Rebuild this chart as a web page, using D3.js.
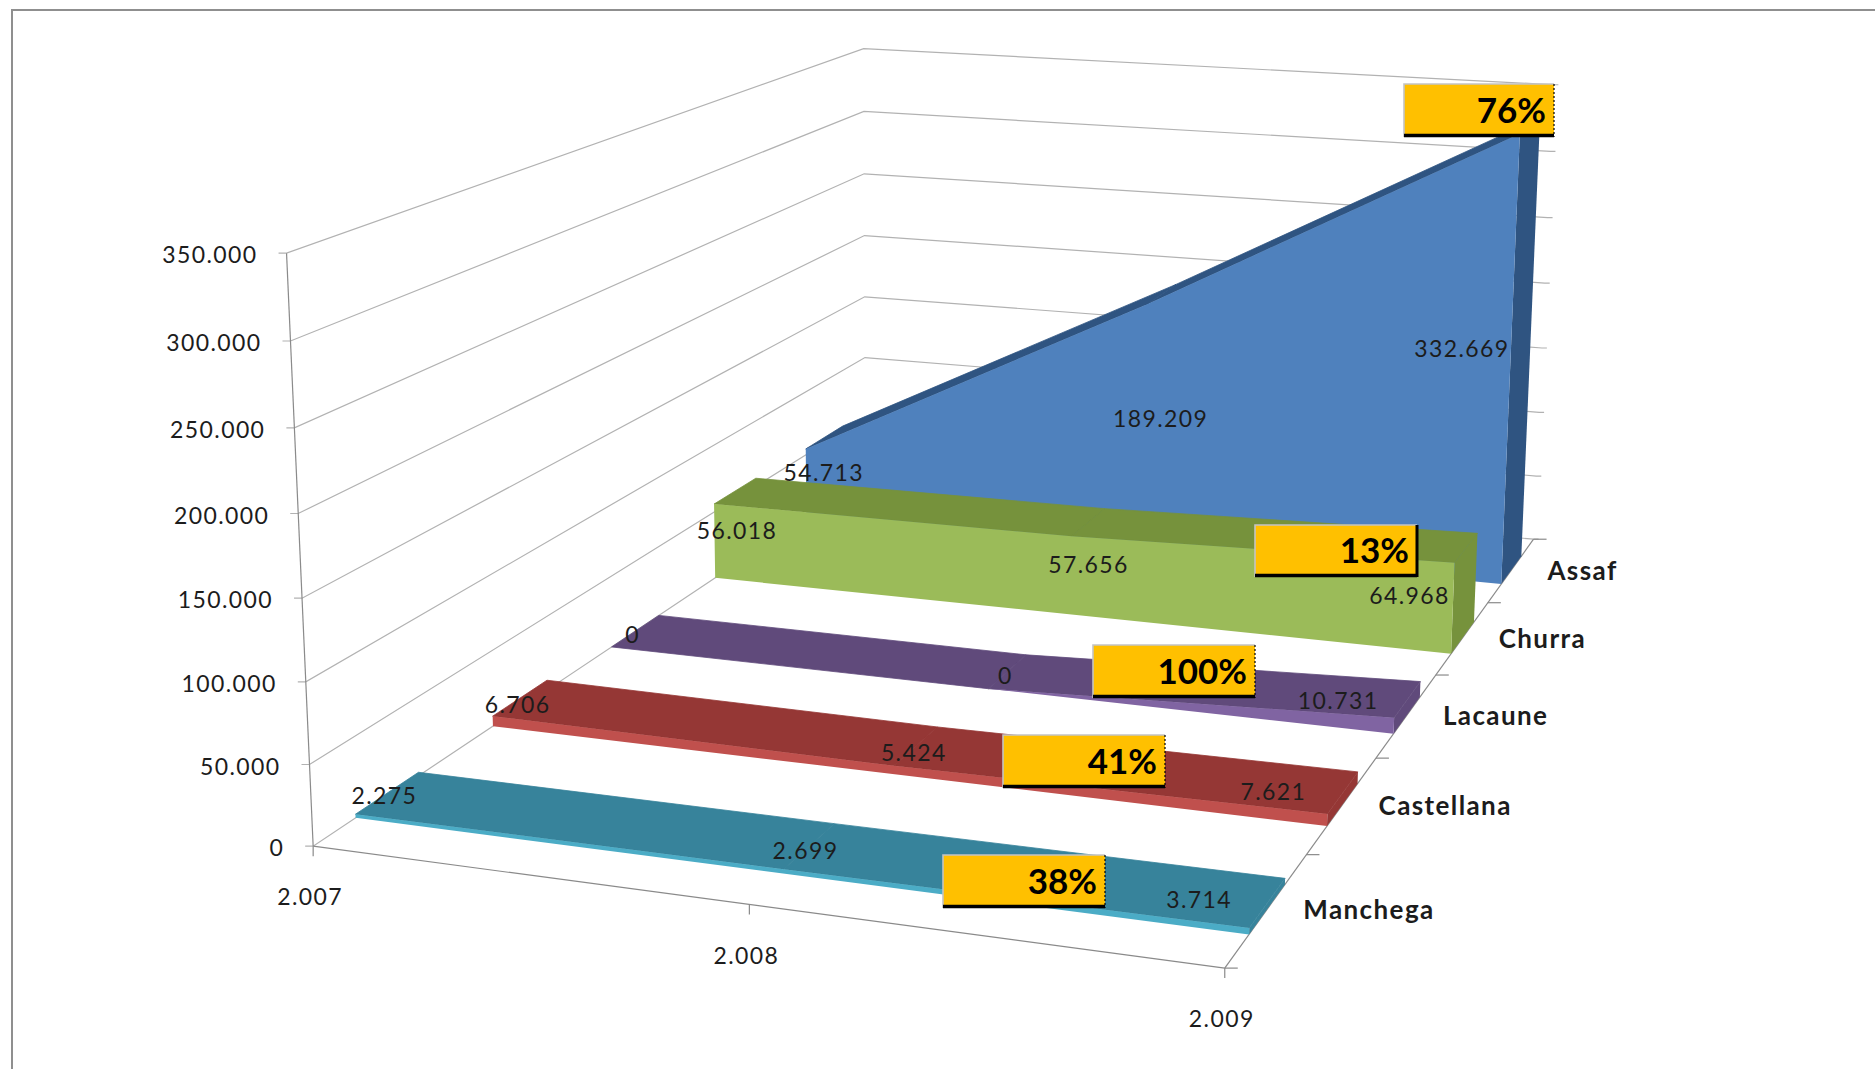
<!DOCTYPE html>
<html><head><meta charset="utf-8">
<script src="https://cdn.jsdelivr.net/npm/d3@7"></script>
<style>html,body{margin:0;background:#fff}svg{display:block}text{font-family:Lato,sans-serif}</style>
</head><body><svg id="c" width="1875" height="1069"></svg>
<script>
const years=[2007,2008,2009];
const seriesNames=["Assaf","Churra","Lacaune","Castellana","Manchega"];
const assaf=[54713,189209,332669];
const churra=[56018,57656,64968];
const lacaune=[0,0,10731];
const castellana=[6706,5424,7621];
const manchega=[2275,2699,3714];
const shares=[76,13,100,41,38];
const yTicks=[0,50000,100000,150000,200000,250000,300000,350000];

// layout only
const labelOffsets=[[[18,24],[14,115],[-58,215]],[[23,27],[17,29],[-45,33]],[[21,-12],[17,-13],[-56,-17]],[[25,-11],[20,-13],[-54,-22]],[[29,-18],[22,-18],[-50,-28]]];
const calloutBoxes=[[1404,84,150,53,false],[1255,525,162,52,true],[1093,645,162,53,false],[1003,735,162,53,false],[943,855,162,53,false]];
const cube=[[0,0,0,313.5,844.5],[1,0,0,1226,968],[0,0,1,864,478],[1,0,1,1534,540],[0,1,0,285,255],[0,1,1,866,48],[1,1,1,1552,84]];

const svg=d3.select("#c");
svg.append("path").attr("d","M12,1069V10H1875").attr("fill","none").attr("stroke","#8f8f8f").attr("stroke-width",2);

function solve(A,b){const n=b.length,M=A.map((r,i)=>[...r,b[i]]);
 for(let i=0;i<n;i++){let p=i;for(let k=i+1;k<n;k++)if(Math.abs(M[k][i])>Math.abs(M[p][i]))p=k;[M[i],M[p]]=[M[p],M[i]];
  for(let k=0;k<n;k++){if(k===i)continue;const f=M[k][i]/M[i][i];for(let j=i;j<=n;j++)M[k][j]-=f*M[i][j];}}
 return M.map((r,i)=>r[n]/r[i]);}
const rows=[],rhs=[];
cube.forEach(([x,y,z,u,v])=>{rows.push([x,y,z,1,0,0,0,0,-u*x,-u*y,-u*z]);rhs.push(u);rows.push([0,0,0,0,x,y,z,1,-v*x,-v*y,-v*z]);rhs.push(v);});
const N=rows[0].length,ATA=d3.range(N).map(i=>d3.range(N).map(j=>d3.sum(rows,r=>r[i]*r[j]))),ATb=d3.range(N).map(i=>d3.sum(rows,(r,k)=>r[i]*rhs[k]));
const P=solve(ATA,ATb);
const project=(x,y,z)=>{const w=P[8]*x+P[9]*y+P[10]*z+1;return[(P[0]*x+P[1]*y+P[2]*z+P[3])/w,(P[4]*x+P[5]*y+P[6]*z+P[7])/w];};

const X=d3.scalePoint().domain(years).range([0,1]);
const Y=d3.scaleLinear().domain([0,350000]).range([0,1]);
const Z=d3.scaleBand().domain([...seriesNames].reverse()).range([0,1]).paddingInner(0.56).paddingOuter(0.28);
const poly=d3.line();
const es=d3.formatLocale({decimal:",",thousands:".",grouping:[3],currency:["","€"]}).format(",d");
const seriesValues=[assaf,churra,lacaune,castellana,manchega];
const faces=[["#2f5481","#2f5481","#4f81bd"],["#76923c","#76923c","#9bbb59"],["#604a7b","#604a7b","#8064a2"],["#953735","#953735","#c0504d"],["#37839b","#37839b","#4bacc6"]];

const grid=svg.append("g").attr("fill","none").attr("stroke","#b2b2b2").attr("stroke-width",1.2);
yTicks.forEach(v=>{const y=Y(v);const a=project(0,y,0),b=project(0,y,1),c=project(1,y,1);
 grid.append("path").attr("d",poly([[a[0]-8,a[1]],a,b,c,[c[0]+5,c[1]]]));});
const axes=svg.append("g").attr("fill","none").attr("stroke","#8a8a8a").attr("stroke-width",1.2);
axes.append("path").attr("d",poly([project(0,0,0),project(0,1,0)]));
axes.append("path").attr("d",poly([project(0,0,0),project(1,0,0)]));
axes.append("path").attr("d",poly([project(1,0,0),project(1,0,1)]));
years.forEach(d=>{const p=project(X(d),0,0);axes.append("path").attr("d",poly([p,[p[0],p[1]+10]]));});
d3.range(6).forEach(i=>{const p=project(1,0,i/5);axes.append("path").attr("d",poly([p,[p[0]+13,p[1]]]));});

const groups=svg.append("g").selectAll("g").data(seriesNames.map((n,i)=>({n,vals:seriesValues[i],c:faces[i]}))).join("g");
groups.each(function(s){const g=d3.select(this),z0=Z(s.n),z1=z0+Z.bandwidth();
 years.slice(0,-1).forEach((d,i)=>{const a=X(d),b=X(years[i+1]),ya=Y(s.vals[i]),yb=Y(s.vals[i+1]);
  g.append("path").attr("fill",s.c[0]).attr("stroke",s.c[0]).attr("stroke-width",0.8).attr("d",poly([project(a,ya,z0),project(b,yb,z0),project(b,yb,z1),project(a,ya,z1)])+"Z");});
 const ye=Y(s.vals[2]);
 g.append("path").attr("fill",s.c[1]).attr("d",poly([project(1,0,z0),project(1,ye,z0),project(1,ye,z1),project(1,0,z1)])+"Z");
 g.append("path").attr("fill",s.c[2]).attr("d",poly([...years.map((d,i)=>project(X(d),Y(s.vals[i]),z0)),project(1,0,z0),project(0,0,z0)])+"Z");
});

const txt=(x,y,str,size,anchor,weight)=>svg.append("text").attr("x",x).attr("y",y).attr("dy","0.35em").attr("font-size",size).attr("text-anchor",anchor).attr("font-weight",weight||400).attr("fill","#1c1c1c").text(str);
const numSpacing=1.4;
yTicks.forEach(v=>{const p=project(0,Y(v),0);txt(p[0]-29,p[1]+2,es(v),23,"end").attr("letter-spacing",numSpacing);});
years.forEach(d=>{const p=project(X(d),0,0);txt(p[0]-3,p[1]+51,es(d),23,"middle").attr("letter-spacing",numSpacing);});
seriesNames.forEach((n,i)=>{const z=Z(n)+Z.bandwidth()/2,p=project(1,0,z);txt(p[0]+36,p[1]+1,n,26,"start",700).attr("letter-spacing",1.4);
 years.forEach((d,j)=>{const q=project(X(d),Y(seriesValues[i][j]),Z(n)),o=labelOffsets[i][j];
  txt(q[0]+o[0],q[1]+o[1],es(seriesValues[i][j]),23,"middle").attr("letter-spacing",numSpacing);});});

const box=svg.append("g").selectAll("g").data(shares.map((s,i)=>({s,b:calloutBoxes[i]}))).join("g");
box.each(function({s,b}){const g=d3.select(this),[x,y,w,h,solid]=b;
 g.append("rect").attr("x",x).attr("y",y).attr("width",w).attr("height",h).attr("fill","#ffc000");
 g.append("path").attr("d",poly([[x,y+h],[x,y],[x+w,y]])).attr("fill","none").attr("stroke","#c4c4c4").attr("stroke-width",1.6);
 g.append("path").attr("d",poly([[x+w,y],[x+w,y+h]])).attr("fill","none").attr("stroke","#000").attr("stroke-width",solid?3:1.2).attr("stroke-dasharray",solid?null:"2 2");
 g.append("path").attr("d",poly([[x,y+h-1.5],[x+w,y+h-1.5]])).attr("fill","none").attr("stroke","#000").attr("stroke-width",3.5);
 txt(x+w-8,y+h/2,s+"%",35,"end",700).attr("fill","#000");
});
</script></body></html>
